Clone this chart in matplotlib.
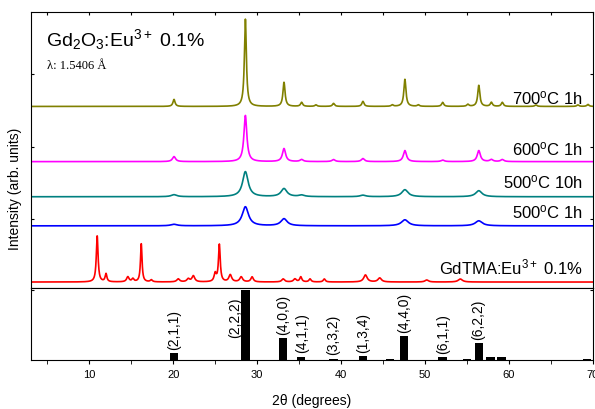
import numpy as np
import matplotlib
matplotlib.use("Agg")
import matplotlib.pyplot as plt
from matplotlib.ticker import MultipleLocator, FixedLocator, NullFormatter

plt.rcParams['font.family'] = ['Liberation Sans', 'DejaVu Sans']
plt.rcParams['mathtext.fontset'] = 'custom'
plt.rcParams['mathtext.rm'] = 'Liberation Sans'
plt.rcParams['mathtext.it'] = 'Liberation Sans:italic'

# peak lists: position (2theta), height, fwhm
pk_700 = [(20.1, 7, 0.3), (28.6, 87, 0.28), (33.2, 24, 0.3), (35.3, 4, 0.3), (37.0, 1.5, 0.3),
          (39.1, 3, 0.3), (42.6, 5, 0.3), (46.1, 1.5, 0.3), (47.6, 27, 0.3), (49.2, 1.5, 0.3),
          (52.1, 4, 0.3), (55.1, 2, 0.3), (56.4, 21, 0.3), (57.9, 4, 0.3), (59.2, 4, 0.3),
          (63.2, 1.5, 0.3), (68.2, 1.5, 0.3), (69.4, 2, 0.3)]
pk_600 = [(20.1, 5, 0.45), (28.6, 46, 0.42), (33.2, 13, 0.45), (35.3, 2, 0.45), (39.1, 2, 0.45),
          (42.6, 3, 0.45), (47.6, 11, 0.45), (52.1, 1.5, 0.45), (56.4, 11, 0.45), (57.9, 2, 0.45),
          (59.2, 2, 0.45)]
pk_500_10 = [(20.1, 2, 0.8), (28.6, 25, 0.8), (33.2, 8, 0.85), (35.3, 1.5, 0.8), (42.6, 1.5, 0.8),
             (47.6, 7, 0.9), (56.4, 6, 0.9)]
pk_500_1 = [(20.1, 1.5, 0.9), (28.6, 19, 0.9), (33.2, 7, 0.9), (47.6, 6, 1.0), (56.4, 5, 1.0)]
pk_tma = [(10.95, 46, 0.25), (12.0, 8, 0.25), (14.6, 5, 0.35), (15.2, 3, 0.3), (16.2, 38, 0.22),
          (17.4, 2, 0.3), (20.6, 3, 0.4), (21.8, 3, 0.4), (22.4, 6, 0.4), (25.0, 8, 0.3),
          (25.5, 37, 0.25), (26.8, 7, 0.4), (28.1, 5, 0.4), (29.4, 5, 0.35), (33.1, 3, 0.4),
          (34.5, 3, 0.4), (35.2, 5, 0.3), (36.3, 3, 0.3), (38.0, 3, 0.3), (42.9, 7, 0.5),
          (44.6, 4, 0.5), (50.2, 2, 0.5), (54.2, 3, 0.6)]

series_peaks = [pk_700, pk_600, pk_500_10, pk_500_1, pk_tma]
series_offset = [181, 126, 91, 62, 6]
series_label = [r'700$^\mathregular{o}$C 1h', r'600$^\mathregular{o}$C 1h',
                r'500$^\mathregular{o}$C 10h', r'500$^\mathregular{o}$C 1h',
                r'GdTMA:Eu$^\mathregular{3+}$ 0.1%']
series_label_y = [190, 139, 106, 76, 22]
series_color = ['#808000', '#FF00FF', '#008080', '#0000FF', '#FF0000']

# reference pattern (relative intensity %)
ref_pos = [20.1, 28.6, 33.1, 35.2, 39.1, 42.6, 45.8, 47.5, 49.0, 52.1, 55.0, 56.4, 57.8, 59.1,
           60.5, 63.1, 68.1, 69.3]
ref_int = [10, 100, 31, 5, 2, 6, 1, 34, 0.7, 4, 1.2, 24, 4, 4, 0.7, 0.7, 0.7, 1]
hkl_pos = [20.1, 27.4, 33.1, 35.3, 39.1, 42.6, 47.5, 52.1, 56.3]
hkl_y = [10, 62, 31, 5, 2, 6, 34, 4, 24]
hkl_txt = ['(2,1,1)', '(2,2,2)', '(4,0,0)', '(4,1,1)', '(3,3,2)', '(1,3,4)', '(4,4,0)',
           '(6,1,1)', '(6,2,2)']


def pattern(x, peaks):
    y = np.zeros_like(x)
    for x0, h, w in peaks:
        y += h / (1 + ((x - x0) / (w / 2)) ** 2)
    return y


fig = plt.figure(figsize=(5.95, 4.10), dpi=100)
ax = fig.add_axes([0.052, 0.295, 0.9446, 0.673])
ax2 = fig.add_axes([0.052, 0.1195, 0.9446, 0.1756])

x = np.linspace(3, 70, 4000)
for pk, off, lab, ly, c in zip(series_peaks, series_offset, series_label, series_label_y, series_color):
    ax.plot(x, pattern(x, pk) + off, color=c, lw=1.2)
    ax.text(68.8, ly, lab, ha='right', va='center', fontsize=12)

ax.set_xlim(3.06, 70)
ax.set_ylim(0, 275)
ax.xaxis.set_major_locator(MultipleLocator(5))
ax.yaxis.set_major_locator(FixedLocator([69, 141, 213]))
ax.tick_params(direction='in', length=2.5, top=True, bottom=False, right=True,
               labelbottom=False, labelleft=False)
ax.text(4.8, 249, r'$\mathregular{Gd_2O_3}$:Eu$^\mathregular{3+}$ 0.1%', fontsize=14,
        va='center')
ax.text(5.0, 222, 'λ: 1.5406 Å', family=['Liberation Serif', 'DejaVu Serif'], fontsize=9,
        va='center')

ax2.bar(ref_pos, ref_int, width=1.0, color='black')
for px, py, t in zip(hkl_pos, hkl_y, hkl_txt):
    if t == '(2,2,2)':
        ax2.text(px, py, t, rotation=90, ha='center', va='center', fontsize=10)
    else:
        ax2.annotate(t, (px, py), xytext=(0, 3), textcoords='offset points', rotation=90,
                     ha='center', va='bottom', fontsize=10)
ax2.set_xlim(3.06, 70)
ax2.set_ylim(0, 103)
ax2.xaxis.set_major_locator(MultipleLocator(10))
ax2.xaxis.set_minor_locator(MultipleLocator(5))
ax2.yaxis.set_major_locator(FixedLocator([100]))
ax2.yaxis.set_major_formatter(NullFormatter())
ax2.tick_params(axis='x', which='both', direction='out', length=3, labelsize=8)
ax2.tick_params(axis='y', direction='in', length=2.5, right=True)
ax2.set_xlabel('2θ (degrees)', fontsize=10, labelpad=10)

fig.text(0.025, 0.54, 'Intensity (arb. units)', rotation=90, ha='center', va='center',
         fontsize=10)

fig.savefig('out.png', dpi=100)
